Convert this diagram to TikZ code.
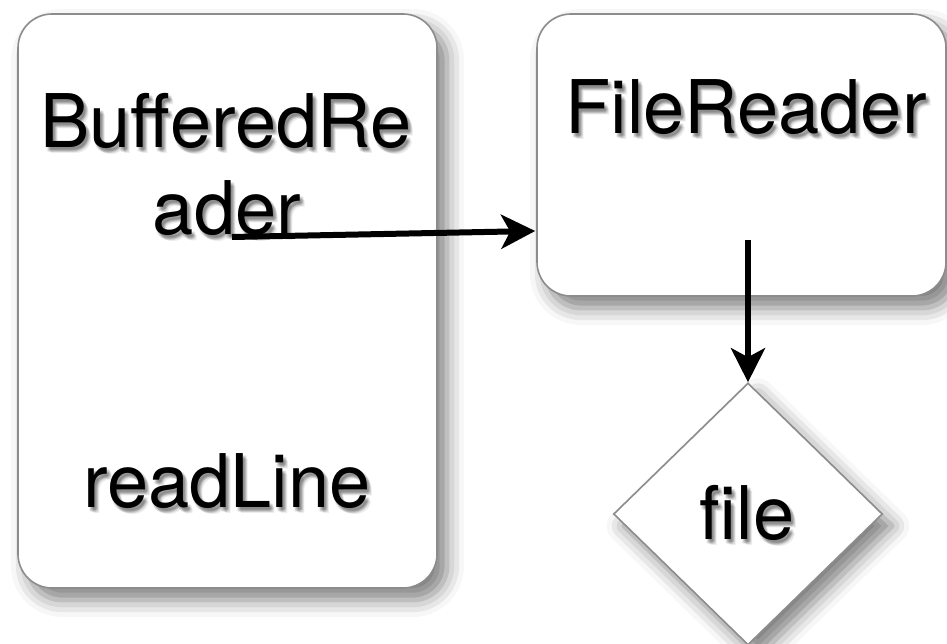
\documentclass[tikz,border=0pt]{standalone}
\usepackage{fontspec}
\setmainfont{TeX Gyre Heros}
\usetikzlibrary{shapes.geometric,arrows.meta,shadows.blur,calc}

\tikzset{
  box/.style={draw=black!45, line width=1.6pt, fill=white, inner sep=0pt,
    blur shadow={shadow xshift=10pt, shadow yshift=-12pt,
      shadow blur radius=17pt, shadow opacity=50}},
  roundbox/.style={box, rounded corners=34pt},
  diamondbox/.style={box, diamond, shape aspect=1},
  lbl/.style={inner sep=0pt, anchor=base, text=black,
    font=\fontsize{74pt}{88pt}\selectfont},
  lblshadow/.style={lbl, opacity=0.07},
  arr/.style={line width=6pt, -{Stealth[length=34pt, width=34pt, inset=9pt]}}
}

% label with a soft drop shadow made of faint offset copies
\newcommand\shadowlabel[4]{%
  \foreach \dx/\dy [count=\k] in {2/3, 3/4, 4/5, 3/2, 1/4, 4/3, 5/6, 2/5}
    \node[lblshadow] (#1-sh\k) at ($(#2,#3)+(\dx,\dy)$) {#4};
  \node[lbl] (#1) at (#2,#3) {#4};%
}

\begin{document}
\begin{tikzpicture}[x=1pt, y=-1pt]
  \useasboundingbox (0,0) rectangle (947,644);

  % boxes
  \node[roundbox, minimum width=419pt, minimum height=574pt] (br) at (227.5,301) {};
  \node[roundbox, minimum width=409pt, minimum height=282pt] (fr) at (741.5,155) {};
  \node[diamondbox, minimum width=269pt, minimum height=262pt] (file) at (748,514) {};

  % texts
  \shadowlabel{brtop}{226}{148}{BufferedRe}
  \shadowlabel{brbot}{227}{235}{ader}
  \shadowlabel{brread}{227}{507}{readLine}
  \shadowlabel{frtext}{746}{134}{FileReader}
  \shadowlabel{filetext}{747}{539}{file}

  % connectors
  \coordinate (a1) at (232,237);
  \coordinate (a1e) at ($(fr.west)+(-1,76)$);
  \coordinate (a2) at (748,240);
  \draw[arr] (a1) -- (a1e);
  \draw[arr] (a2) -- (file.north);
\end{tikzpicture}
\end{document}
